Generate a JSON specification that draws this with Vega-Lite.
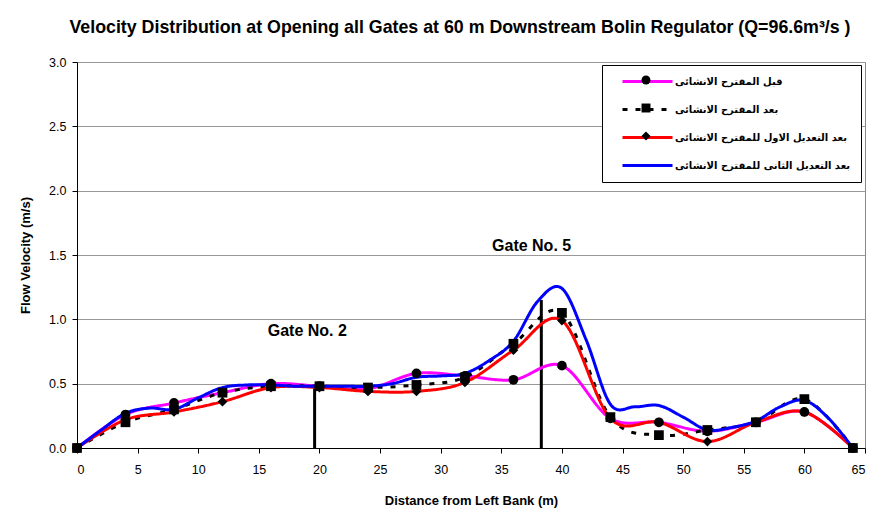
{
  "$schema": "https://vega.github.io/schema/vega-lite/v6.json",
  "width": 788,
  "height": 386,
  "autosize": {"type": "none"},
  "padding": {"left": 77, "top": 62, "right": 20, "bottom": 70},
  "background": "white",
  "title": {
    "text": "Velocity Distribution at Opening all Gates  at 60 m Downstream Bolin Regulator (Q=96.6m³/s )",
    "font": "Liberation Sans",
    "fontSize": 17.8,
    "fontWeight": "bold",
    "color": "black",
    "anchor": "middle",
    "dx": -11,
    "offset": 19
  },
  "config": {
    "view": {"stroke": "#888888", "strokeWidth": 1},
    "axis": {
      "labelFont": "Liberation Sans",
      "labelFontSize": 12.5,
      "labelColor": "black",
      "titleFont": "Liberation Sans",
      "titleFontSize": 13,
      "titleFontWeight": "bold",
      "titleColor": "black",
      "domainColor": "black",
      "tickColor": "black",
      "tickSize": 5
    }
  },
  "datasets": {
    "series": [
      {"series": "قبل المقترح الانشائى", "x": 0, "v": 0},
      {"series": "قبل المقترح الانشائى", "x": 4, "v": 0.26},
      {"series": "قبل المقترح الانشائى", "x": 8, "v": 0.35},
      {"series": "قبل المقترح الانشائى", "x": 12, "v": 0.43},
      {"series": "قبل المقترح الانشائى", "x": 16, "v": 0.5},
      {"series": "قبل المقترح الانشائى", "x": 20, "v": 0.48},
      {"series": "قبل المقترح الانشائى", "x": 24, "v": 0.46},
      {"series": "قبل المقترح الانشائى", "x": 28, "v": 0.58},
      {"series": "قبل المقترح الانشائى", "x": 32, "v": 0.56},
      {"series": "قبل المقترح الانشائى", "x": 36, "v": 0.53},
      {"series": "قبل المقترح الانشائى", "x": 40, "v": 0.64},
      {"series": "قبل المقترح الانشائى", "x": 44, "v": 0.23},
      {"series": "قبل المقترح الانشائى", "x": 48, "v": 0.2},
      {"series": "قبل المقترح الانشائى", "x": 52, "v": 0.13},
      {"series": "قبل المقترح الانشائى", "x": 56, "v": 0.2},
      {"series": "قبل المقترح الانشائى", "x": 60, "v": 0.28},
      {"series": "قبل المقترح الانشائى", "x": 64, "v": 0},
      {"series": "بعد المقترح الانشائى", "x": 0, "v": 0},
      {"series": "بعد المقترح الانشائى", "x": 4, "v": 0.2},
      {"series": "بعد المقترح الانشائى", "x": 8, "v": 0.3},
      {"series": "بعد المقترح الانشائى", "x": 12, "v": 0.43},
      {"series": "بعد المقترح الانشائى", "x": 16, "v": 0.48},
      {"series": "بعد المقترح الانشائى", "x": 20, "v": 0.48},
      {"series": "بعد المقترح الانشائى", "x": 24, "v": 0.47},
      {"series": "بعد المقترح الانشائى", "x": 28, "v": 0.49},
      {"series": "بعد المقترح الانشائى", "x": 32, "v": 0.55},
      {"series": "بعد المقترح الانشائى", "x": 36, "v": 0.81},
      {"series": "بعد المقترح الانشائى", "x": 40, "v": 1.05},
      {"series": "بعد المقترح الانشائى", "x": 44, "v": 0.24},
      {"series": "بعد المقترح الانشائى", "x": 48, "v": 0.1},
      {"series": "بعد المقترح الانشائى", "x": 52, "v": 0.14},
      {"series": "بعد المقترح الانشائى", "x": 56, "v": 0.2},
      {"series": "بعد المقترح الانشائى", "x": 60, "v": 0.38},
      {"series": "بعد المقترح الانشائى", "x": 64, "v": 0},
      {"series": "بعد التعديل الاول للمقترح الانشائى", "x": 0, "v": 0},
      {"series": "بعد التعديل الاول للمقترح الانشائى", "x": 4, "v": 0.22},
      {"series": "بعد التعديل الاول للمقترح الانشائى", "x": 8, "v": 0.28},
      {"series": "بعد التعديل الاول للمقترح الانشائى", "x": 12, "v": 0.36},
      {"series": "بعد التعديل الاول للمقترح الانشائى", "x": 16, "v": 0.47},
      {"series": "بعد التعديل الاول للمقترح الانشائى", "x": 20, "v": 0.47},
      {"series": "بعد التعديل الاول للمقترح الانشائى", "x": 24, "v": 0.44},
      {"series": "بعد التعديل الاول للمقترح الانشائى", "x": 28, "v": 0.44},
      {"series": "بعد التعديل الاول للمقترح الانشائى", "x": 32, "v": 0.51},
      {"series": "بعد التعديل الاول للمقترح الانشائى", "x": 36, "v": 0.76},
      {"series": "بعد التعديل الاول للمقترح الانشائى", "x": 40, "v": 0.99},
      {"series": "بعد التعديل الاول للمقترح الانشائى", "x": 44, "v": 0.23},
      {"series": "بعد التعديل الاول للمقترح الانشائى", "x": 48, "v": 0.2},
      {"series": "بعد التعديل الاول للمقترح الانشائى", "x": 52, "v": 0.05},
      {"series": "بعد التعديل الاول للمقترح الانشائى", "x": 56, "v": 0.2},
      {"series": "بعد التعديل الاول للمقترح الانشائى", "x": 60, "v": 0.28},
      {"series": "بعد التعديل الاول للمقترح الانشائى", "x": 64, "v": 0},
      {"series": "بعد التعديل الثانى للمقترح الانشائى", "x": 0, "v": 0},
      {"series": "بعد التعديل الثانى للمقترح الانشائى", "x": 2, "v": 0.14},
      {"series": "بعد التعديل الثانى للمقترح الانشائى", "x": 4, "v": 0.27},
      {"series": "بعد التعديل الثانى للمقترح الانشائى", "x": 6, "v": 0.31},
      {"series": "بعد التعديل الثانى للمقترح الانشائى", "x": 8, "v": 0.3},
      {"series": "بعد التعديل الثانى للمقترح الانشائى", "x": 10, "v": 0.39},
      {"series": "بعد التعديل الثانى للمقترح الانشائى", "x": 12, "v": 0.47},
      {"series": "بعد التعديل الثانى للمقترح الانشائى", "x": 14, "v": 0.49},
      {"series": "بعد التعديل الثانى للمقترح الانشائى", "x": 16, "v": 0.49},
      {"series": "بعد التعديل الثانى للمقترح الانشائى", "x": 18, "v": 0.48},
      {"series": "بعد التعديل الثانى للمقترح الانشائى", "x": 20, "v": 0.48},
      {"series": "بعد التعديل الثانى للمقترح الانشائى", "x": 22, "v": 0.48},
      {"series": "بعد التعديل الثانى للمقترح الانشائى", "x": 24, "v": 0.48},
      {"series": "بعد التعديل الثانى للمقترح الانشائى", "x": 26, "v": 0.5},
      {"series": "بعد التعديل الثانى للمقترح الانشائى", "x": 28, "v": 0.55},
      {"series": "بعد التعديل الثانى للمقترح الانشائى", "x": 30, "v": 0.56},
      {"series": "بعد التعديل الثانى للمقترح الانشائى", "x": 32, "v": 0.58},
      {"series": "بعد التعديل الثانى للمقترح الانشائى", "x": 34, "v": 0.68},
      {"series": "بعد التعديل الثانى للمقترح الانشائى", "x": 36, "v": 0.83},
      {"series": "بعد التعديل الثانى للمقترح الانشائى", "x": 38, "v": 1.14},
      {"series": "بعد التعديل الثانى للمقترح الانشائى", "x": 40, "v": 1.24},
      {"series": "بعد التعديل الثانى للمقترح الانشائى", "x": 42, "v": 0.84},
      {"series": "بعد التعديل الثانى للمقترح الانشائى", "x": 44, "v": 0.34},
      {"series": "بعد التعديل الثانى للمقترح الانشائى", "x": 46, "v": 0.32},
      {"series": "بعد التعديل الثانى للمقترح الانشائى", "x": 48, "v": 0.33},
      {"series": "بعد التعديل الثانى للمقترح الانشائى", "x": 50, "v": 0.24},
      {"series": "بعد التعديل الثانى للمقترح الانشائى", "x": 52, "v": 0.14},
      {"series": "بعد التعديل الثانى للمقترح الانشائى", "x": 54, "v": 0.16},
      {"series": "بعد التعديل الثانى للمقترح الانشائى", "x": 56, "v": 0.21},
      {"series": "بعد التعديل الثانى للمقترح الانشائى", "x": 58, "v": 0.32},
      {"series": "بعد التعديل الثانى للمقترح الانشائى", "x": 60, "v": 0.37},
      {"series": "بعد التعديل الثانى للمقترح الانشائى", "x": 62, "v": 0.23},
      {"series": "بعد التعديل الثانى للمقترح الانشائى", "x": 64, "v": 0}
    ],
    "gates": [
      {"gate": "Gate No. 2", "x": 19.6, "base": 0, "top": 0.49, "lx": 19.0, "ly": 0.91},
      {"gate": "Gate No. 5", "x": 38.3, "base": 0, "top": 1.15, "lx": 37.5, "ly": 1.57}
    ]
  },
  "layer": [
    {
      "data": {"name": "gates"},
      "mark": {"type": "rule", "color": "black", "strokeWidth": 3},
      "encoding": {
        "x": {"field": "x", "type": "quantitative", "scale": {"domain": [0, 65], "nice": false}},
        "y": {"field": "base", "type": "quantitative"},
        "y2": {"field": "top"}
      }
    },
    {
      "data": {"name": "gates"},
      "mark": {"type": "text", "font": "Liberation Sans", "fontSize": 16, "fontWeight": "bold", "color": "black", "align": "center", "baseline": "middle"},
      "encoding": {
        "x": {"field": "lx", "type": "quantitative"},
        "y": {"field": "ly", "type": "quantitative"},
        "text": {"field": "gate"}
      }
    },
    {
      "data": {"name": "series"},
      "mark": {"type": "line", "interpolate": "cardinal", "tension": 0, "strokeWidth": 3},
      "encoding": {
        "x": {
          "field": "x", "type": "quantitative",
          "scale": {"domain": [0, 65], "nice": false},
          "axis": {"values": [0,5,10,15,20,25,30,35,40,45,50,55,60,65], "grid": false, "title": "Distance from Left Bank (m)", "labelPadding": 10, "titlePadding": 19}
        },
        "y": {
          "field": "v", "type": "quantitative",
          "scale": {"domain": [0, 3], "nice": false},
          "axis": {"values": [0,0.5,1,1.5,2,2.5,3], "format": ".1f", "grid": true, "gridColor": "#999999", "title": "Flow Velocity  (m/s)", "labelPadding": 6, "titlePadding": 16}
        },
        "color": {
          "field": "series", "type": "nominal",
          "scale": {
            "domain": ["قبل المقترح الانشائى", "بعد المقترح الانشائى", "بعد التعديل الاول للمقترح الانشائى", "بعد التعديل الثانى للمقترح الانشائى"],
            "range": ["#FF00FF", "#000000", "#FF0000", "#0000FF"]
          },
          "legend": {
            "orient": "none", "legendX": 525, "legendY": 3, "title": null,
            "symbolType": "M-5,0H5", "symbolSize": 100, "symbolStrokeWidth": 3,
            "symbolOffset": 29, "labelOffset": 21,
            "labelFont": "DejaVu Sans", "labelFontWeight": "bold", "labelFontSize": 10, "labelColor": "black", "labelLimit": 400,
            "strokeColor": "black", "fillColor": "white", "padding": 10, "rowPadding": 15
          }
        },
        "strokeDash": {
          "field": "series", "type": "nominal",
          "scale": {
            "domain": ["قبل المقترح الانشائى", "بعد المقترح الانشائى", "بعد التعديل الاول للمقترح الانشائى", "بعد التعديل الثانى للمقترح الانشائى"],
            "range": [[1, 0], [5, 8], [1, 0], [1, 0]]
          }
        }
      }
    },
    {
      "data": {"name": "series"},
      "transform": [{"filter": "datum.series !== 'بعد التعديل الثانى للمقترح الانشائى'"}],
      "mark": {"type": "point", "filled": true, "color": "black", "opacity": 1, "size": 95},
      "encoding": {
        "x": {"field": "x", "type": "quantitative"},
        "y": {"field": "v", "type": "quantitative"},
        "shape": {
          "field": "series", "type": "nominal",
          "scale": {
            "domain": ["قبل المقترح الانشائى", "بعد المقترح الانشائى", "بعد التعديل الاول للمقترح الانشائى"],
            "range": ["circle", "square", "diamond"]
          },
          "legend": {
            "orient": "none", "legendX": 525, "legendY": 3, "title": null,
            "symbolSize": 80, "symbolFillColor": "black", "symbolStrokeColor": "black", "symbolStrokeWidth": 0,
            "symbolOffset": 29,
            "labelFont": "DejaVu Sans", "labelFontWeight": "bold", "labelFontSize": 10, "labelExpr": "''",
            "padding": 10, "rowPadding": 18
          }
        }
      }
    }
  ]
}
